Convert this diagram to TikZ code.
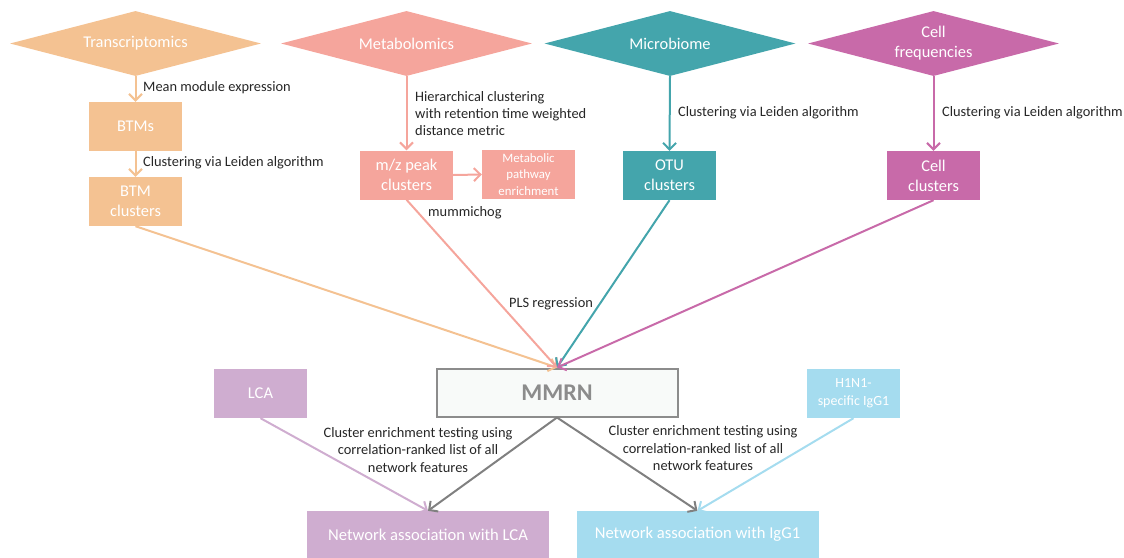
\documentclass[tikz,border=0pt]{standalone}
\usepackage{fontspec}
\setmainfont{Carlito}
\usetikzlibrary{arrows.meta,shapes.geometric}
\definecolor{ctrans}{HTML}{F4C292}
\definecolor{cmetab}{HTML}{F5A59C}
\definecolor{cmicro}{HTML}{44A5AC}
\definecolor{ccell}{HTML}{C86AA9}
\definecolor{clca}{HTML}{CFADD0}
\definecolor{cigg}{HTML}{A5DCEF}
\definecolor{cgrayarr}{HTML}{808080}
\definecolor{cmmrnb}{HTML}{8C8C8C}
\definecolor{cmmrnf}{HTML}{F8FAF9}
\definecolor{ctxt}{HTML}{262626}
\tikzset{
  dia/.style={shape=diamond, minimum width=251pt, minimum height=65pt, inner sep=0pt, aspect=3.86,
    text=white, align=center, font=\fontsize{16.4}{20}\selectfont},
  bx/.style={rectangle, minimum width=93pt, minimum height=49pt, inner sep=0pt,
    text=white, align=center, font=\fontsize{16.4}{20}\selectfont},
  bigbx/.style={rectangle, minimum width=242pt, minimum height=47pt, inner sep=0pt,
    text=white, align=center, font=\fontsize{16.6}{20}\selectfont},
  lbl/.style={inner sep=0pt, text=ctxt, font=\fontsize{14.4}{17}\selectfont},
  arr/.style={line width=2pt, -{Straight Barb[length=6.5pt,width=13pt]}},
}
\begin{document}
\begin{tikzpicture}[x=1pt,y=-1pt]
\useasboundingbox (0,0) rectangle (1124,557);
% diamonds
\node[dia, fill=ctrans] (trans) at (135.5,43.5) {Transcriptomics};
\node[dia, fill=cmetab] (metab) at (406.5,43.5) {Metabolomics};
\node[dia, fill=cmicro] (micro) at (670,43.5) {Microbiome};
\node[dia, fill=ccell] (cellf) at (933.5,43.5) {Cell\\frequencies};
% boxes
\node[bx, fill=ctrans] (btms) at (135.5,126.5) {BTMs};
\node[bx, fill=ctrans] (btmc) at (135.5,201.5) {BTM\\clusters};
\node[bx, fill=cmetab] (mz) at (406.5,175) {m/z peak\\clusters};
\node[bx, fill=cmetab, font=\fontsize{12.8}{16.5}\selectfont] (path) at (528.5,174.5) {Metabolic\\pathway\\enrichment};
\node[bx, fill=cmicro] (otu) at (669.5,175.5) {OTU\\clusters};
\node[bx, fill=ccell] (cellc) at (933.5,175.5) {Cell\\clusters};
% MMRN
\node[rectangle, draw=cmmrnb, line width=2pt, fill=cmmrnf, minimum width=241pt, minimum height=48pt,
  text=cmmrnb, font=\fontsize{24}{28}\selectfont\bfseries] (mmrn) at (557,392.5) {MMRN};
\node[bx, fill=clca, font=\fontsize{16.5}{19}\selectfont] (lca) at (260.5,393.5) {LCA};
\node[bx, fill=cigg, font=\fontsize{14}{18}\selectfont] (h1n1) at (853.5,393.5) {H1N1-\\specific IgG1};
\node[bigbx, fill=clca] (netlca) at (428,534.5) {Network association with LCA};
\node[bigbx, fill=cigg] (netigg) at (697.5,534.5) {Network association with IgG1};
% connectors
\draw[arr, ctrans] (trans.south) -- (btms.north);
\draw[arr, ctrans] (btms.south) -- (btmc.north);
\draw[arr, cmetab] (metab.south) -- (mz.north);
\draw[arr, cmetab] (mz.east) -- (path.west);
\draw[arr, cmicro] (micro.south) -- (otu.north);
\draw[arr, ccell] (cellf.south) -- (cellc.north);
\draw[arr, ctrans] (btmc.south) -- (mmrn.north);
\draw[arr, cmetab] (mz.south) -- (mmrn.north);
\draw[arr, cmicro] (otu.south) -- (mmrn.north);
\draw[arr, ccell] (cellc.south) -- (mmrn.north);
\draw[arr, clca] (lca.south) -- (netlca.north);
\draw[arr, cgrayarr] (mmrn.south) -- (netlca.north);
\draw[arr, cgrayarr] (mmrn.south) -- (netigg.north);
\draw[arr, cigg] (h1n1.south) -- (netigg.north);
% labels
\node[lbl, anchor=west] (l1) at (143,88) {Mean module expression};
\node[lbl, anchor=west] (l2) at (143,163) {Clustering via Leiden algorithm};
\node[lbl, anchor=west, align=left] (l3) at (415,113.5) {Hierarchical clustering\\with retention time weighted\\distance metric};
\node[lbl, anchor=west] (l4) at (428,212.5) {mummichog};
\node[lbl, anchor=west] (l5) at (678,113) {Clustering via Leiden algorithm};
\node[lbl, anchor=west] (l6) at (942,113) {Clustering via Leiden algorithm};
\node[lbl] (l7) at (551,304) {PLS regression};
\node[lbl, align=center, font=\fontsize{14.4}{17.5}\selectfont] (l8) at (418,450) {Cluster enrichment testing using\\correlation-ranked list of all\\network features};
\node[lbl, align=center, font=\fontsize{14.4}{17.5}\selectfont] (l9) at (703,448.5) {Cluster enrichment testing using\\correlation-ranked list of all\\network features};
\end{tikzpicture}
\end{document}
